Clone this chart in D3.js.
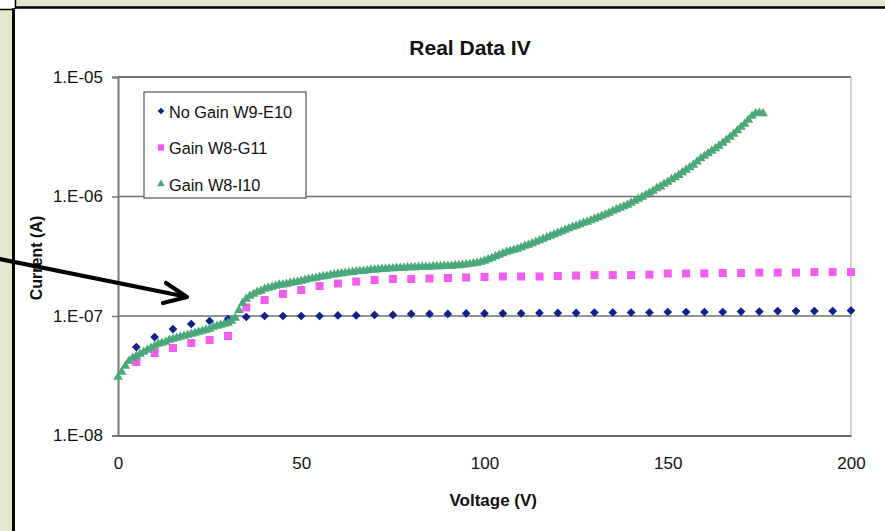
<!DOCTYPE html>
<html>
<head>
<meta charset="utf-8">
<script src="https://cdn.jsdelivr.net/npm/d3@7"></script>
<style>
  html, body { margin: 0; padding: 0; background: #fff; }
  svg { display: block; font-family: "Liberation Sans", Arial, sans-serif; }
</style>
</head>
<body>
<div id="chart"></div>
<script>
// ---- data ----
const seriesNames = ["No Gain W9-E10", "Gain W8-G11", "Gain W8-I10"];

// blue and pink series: one point every 5 V, from 5 to 200 V
const stepVolts = d3.range(5, 201, 5);
const noGainW9E10 = [
  5.50e-8, 6.67e-8, 7.78e-8, 8.57e-8, 9.08e-8, 9.44e-8, 9.81e-8, 1.00e-7, 1.00e-7, 1.00e-7,
  1.00e-7, 1.01e-7, 1.01e-7, 1.02e-7, 1.02e-7, 1.04e-7, 1.04e-7, 1.04e-7, 1.05e-7, 1.05e-7,
  1.05e-7, 1.05e-7, 1.06e-7, 1.06e-7, 1.06e-7, 1.07e-7, 1.07e-7, 1.07e-7, 1.07e-7, 1.08e-7,
  1.08e-7, 1.08e-7, 1.08e-7, 1.09e-7, 1.09e-7, 1.10e-7, 1.10e-7, 1.10e-7, 1.10e-7, 1.11e-7
];
const gainW8G11 = [
  4.12e-8, 4.90e-8, 5.40e-8, 5.94e-8, 6.30e-8, 6.80e-8, 1.18e-7, 1.36e-7, 1.53e-7, 1.65e-7,
  1.78e-7, 1.87e-7, 1.94e-7, 2.00e-7, 2.04e-7, 2.04e-7, 2.06e-7, 2.08e-7, 2.10e-7, 2.12e-7,
  2.14e-7, 2.14e-7, 2.14e-7, 2.16e-7, 2.18e-7, 2.20e-7, 2.20e-7, 2.20e-7, 2.22e-7, 2.27e-7,
  2.27e-7, 2.27e-7, 2.29e-7, 2.29e-7, 2.31e-7, 2.31e-7, 2.31e-7, 2.33e-7, 2.33e-7, 2.33e-7
];

// green series: one point every 1 V, from 0 to 176 V
const denseVolts = d3.range(0, 177, 1);
const gainW8I10 = [
  3.09e-8, 3.40e-8, 3.82e-8, 4.20e-8, 4.45e-8, 4.63e-8, 4.81e-8, 5.00e-8, 5.19e-8, 5.40e-8,
  5.61e-8, 5.83e-8, 5.94e-8, 6.06e-8, 6.30e-8, 6.42e-8, 6.55e-8, 6.67e-8, 6.80e-8, 6.94e-8,
  7.07e-8, 7.21e-8, 7.35e-8, 7.49e-8, 7.64e-8, 7.78e-8, 8.09e-8, 8.25e-8, 8.41e-8, 8.57e-8,
  8.74e-8, 9.08e-8, 9.62e-8, 1.12e-7, 1.28e-7, 1.39e-7, 1.47e-7, 1.53e-7, 1.59e-7, 1.62e-7,
  1.68e-7, 1.72e-7, 1.75e-7, 1.78e-7, 1.82e-7, 1.83e-7, 1.85e-7, 1.89e-7, 1.91e-7, 1.93e-7,
  1.96e-7, 2.00e-7, 2.04e-7, 2.06e-7, 2.08e-7, 2.12e-7, 2.14e-7, 2.16e-7, 2.20e-7, 2.22e-7,
  2.25e-7, 2.27e-7, 2.29e-7, 2.31e-7, 2.33e-7, 2.36e-7, 2.38e-7, 2.38e-7, 2.40e-7, 2.43e-7,
  2.43e-7, 2.45e-7, 2.47e-7, 2.47e-7, 2.50e-7, 2.50e-7, 2.52e-7, 2.52e-7, 2.52e-7, 2.55e-7,
  2.55e-7, 2.55e-7, 2.57e-7, 2.57e-7, 2.57e-7, 2.57e-7, 2.60e-7, 2.60e-7, 2.60e-7, 2.62e-7,
  2.62e-7, 2.62e-7, 2.65e-7, 2.65e-7, 2.67e-7, 2.70e-7, 2.72e-7, 2.75e-7, 2.78e-7, 2.83e-7,
  2.89e-7, 2.97e-7, 3.06e-7, 3.15e-7, 3.24e-7, 3.33e-7, 3.43e-7, 3.50e-7, 3.57e-7, 3.64e-7,
  3.74e-7, 3.85e-7, 3.93e-7, 4.04e-7, 4.16e-7, 4.28e-7, 4.41e-7, 4.54e-7, 4.67e-7, 4.81e-7,
  4.95e-7, 5.09e-7, 5.24e-7, 5.40e-7, 5.56e-7, 5.66e-7, 5.83e-7, 6.00e-7, 6.12e-7, 6.30e-7,
  6.48e-7, 6.67e-7, 6.87e-7, 7.07e-7, 7.28e-7, 7.56e-7, 7.78e-7, 8.01e-7, 8.25e-7, 8.49e-7,
  8.82e-7, 9.17e-7, 9.53e-7, 9.90e-7, 1.03e-6, 1.07e-6, 1.11e-6, 1.17e-6, 1.21e-6, 1.27e-6,
  1.32e-6, 1.39e-6, 1.44e-6, 1.51e-6, 1.59e-6, 1.67e-6, 1.75e-6, 1.84e-6, 1.95e-6, 2.08e-6,
  2.18e-6, 2.29e-6, 2.40e-6, 2.52e-6, 2.65e-6, 2.80e-6, 2.97e-6, 3.15e-6, 3.33e-6, 3.57e-6,
  3.82e-6, 4.04e-6, 4.37e-6, 4.72e-6, 4.95e-6, 5.00e-6, 4.95e-6
];

const xTicks = [0, 50, 100, 150, 200];
const yTicks = [1e-8, 1e-7, 1e-6, 1e-5];

// ---- layout ----
const width = 885, height = 531;
const plot = { left: 118, right: 851, top: 77, bottom: 435.5 };
const beige = "#e4e6cd";
const colors = ["#0f1f8c", "#f45cef", "#4aa87a"];
const font = "Liberation Sans, Arial, sans-serif";

const svg = d3.select("#chart").append("svg")
  .attr("width", width)
  .attr("height", height);

// slide frame behind the chart
svg.append("rect").attr("width", width).attr("height", height).attr("fill", beige);
svg.append("rect").attr("x", 15).attr("y", 8).attr("width", width).attr("height", height).attr("fill", "#fff");
svg.append("rect").attr("x", 0).attr("y", 0).attr("width", 15).attr("height", 9).attr("fill", "#fff");
svg.append("line").attr("x1", 15).attr("x2", width).attr("y1", 7.5).attr("y2", 7.5)
  .attr("stroke", "#000").attr("stroke-width", 2.5);
svg.append("line").attr("x1", 13.5).attr("x2", 13.5).attr("y1", 8).attr("y2", height)
  .attr("stroke", "#000").attr("stroke-width", 3);
svg.append("line").attr("x1", 0).attr("x2", 15).attr("y1", 9.5).attr("y2", 9.5)
  .attr("stroke", "#000").attr("stroke-width", 1.5);
svg.append("line").attr("x1", 15.5).attr("x2", 15.5).attr("y1", 0).attr("y2", 9)
  .attr("stroke", "#000").attr("stroke-width", 1.5);

const x = d3.scaleLinear().domain([0, 200]).range([plot.left, plot.right]);
const y = d3.scaleLog().domain([1e-8, 1e-5]).range([plot.bottom, plot.top]);

// plot area border (top dark, right light)
svg.append("line").attr("x1", plot.left).attr("x2", plot.right)
  .attr("y1", plot.top).attr("y2", plot.top)
  .attr("stroke", "#444").attr("stroke-width", 1.5);
svg.append("line").attr("x1", plot.right).attr("x2", plot.right)
  .attr("y1", plot.top).attr("y2", plot.bottom)
  .attr("stroke", "#c4c4c4").attr("stroke-width", 1.5);

// horizontal gridlines
svg.append("g")
  .selectAll("line")
  .data(yTicks.slice(1, 3))
  .join("line")
  .attr("x1", plot.left).attr("x2", plot.right)
  .attr("y1", d => y(d)).attr("y2", d => y(d))
  .attr("stroke", "#6f6f6f").attr("stroke-width", 1.6);

// y axis
const yAxis = svg.append("g")
  .attr("transform", `translate(${plot.left},0)`)
  .call(d3.axisLeft(y).tickValues(yTicks).tickSize(6).tickPadding(9)
    .tickFormat(d => "1.E-" + String(-Math.round(Math.log10(d))).padStart(2, "0")));
yAxis.select(".domain").attr("stroke", "#777").attr("stroke-width", 2);
yAxis.selectAll(".tick line").attr("stroke", "#777").attr("stroke-width", 1.6);
yAxis.selectAll(".tick text").attr("font-size", 17).attr("fill", "#111")
  .attr("font-family", font);

// x axis
const xAxis = svg.append("g")
  .attr("transform", `translate(0,${plot.bottom})`)
  .call(d3.axisBottom(x).tickValues(xTicks).tickSize(0).tickPadding(21));
xAxis.select(".domain").attr("stroke", "#6a6a6a").attr("stroke-width", 2);
xAxis.selectAll(".tick text").attr("font-size", 17).attr("fill", "#111")
  .attr("font-family", font);

// titles
svg.append("text").attr("x", 470).attr("y", 55).attr("text-anchor", "middle")
  .attr("font-size", 21).attr("font-weight", "bold").attr("fill", "#111")
  .text("Real Data IV");
svg.append("text").attr("x", 537).attr("y", 506).attr("text-anchor", "end")
  .attr("font-size", 17).attr("font-weight", "bold").attr("fill", "#111")
  .text("Voltage (V)");
svg.append("text")
  .attr("transform", `translate(42,258) rotate(-90)`)
  .attr("text-anchor", "middle")
  .attr("font-size", 16).attr("font-weight", "bold").attr("fill", "#111")
  .text("Current (A)");

// markers: the diamond is a square turned 45 degrees
const shapes = [d3.symbolSquare, d3.symbolSquare, d3.symbolTriangle];
const sizes = [38, 64, 40];
const turns = [45, 0, 0];
const seriesData = [
  stepVolts.map((v, i) => [v, noGainW9E10[i]]),
  stepVolts.map((v, i) => [v, gainW8G11[i]]),
  denseVolts.map((v, i) => [v, gainW8I10[i]])
];

seriesData.forEach((pts, s) => {
  svg.append("g")
    .selectAll("path")
    .data(pts)
    .join("path")
    .attr("d", d3.symbol().type(shapes[s]).size(sizes[s])())
    .attr("transform", d => `translate(${x(d[0])},${y(d[1])}) rotate(${turns[s]})`)
    .attr("fill", colors[s]);
});

// legend
const legend = svg.append("g").attr("transform", "translate(144,92)");
legend.append("rect").attr("width", 162).attr("height", 106)
  .attr("fill", "#fff").attr("stroke", "#555").attr("stroke-width", 1.2);
seriesNames.forEach((name, i) => {
  const row = legend.append("g").attr("transform", `translate(0,${20 + i * 36.5})`);
  row.append("path")
    .attr("d", d3.symbol().type(shapes[i]).size([22, 40, 26][i])())
    .attr("transform", `translate(17,-1) rotate(${turns[i]})`)
    .attr("fill", colors[i]);
  row.append("text").attr("x", 25).attr("y", 5.5)
    .attr("font-size", 16.3).attr("fill", "#111").text(name);
});

// annotation arrow from the slide pointing at the curves
const arrowTip = [187, 297];
const arrow = svg.append("g").attr("stroke", "#000").attr("stroke-width", 4.2)
  .attr("fill", "none").attr("stroke-linecap", "round").attr("stroke-linejoin", "round");
arrow.append("line").attr("x1", 0).attr("y1", 259).attr("x2", arrowTip[0] - 2).attr("y2", arrowTip[1] - 0.5);
arrow.append("polyline")
  .attr("points", `166,283 ${arrowTip[0]},${arrowTip[1]} 163,303`);
</script>
</body>
</html>
